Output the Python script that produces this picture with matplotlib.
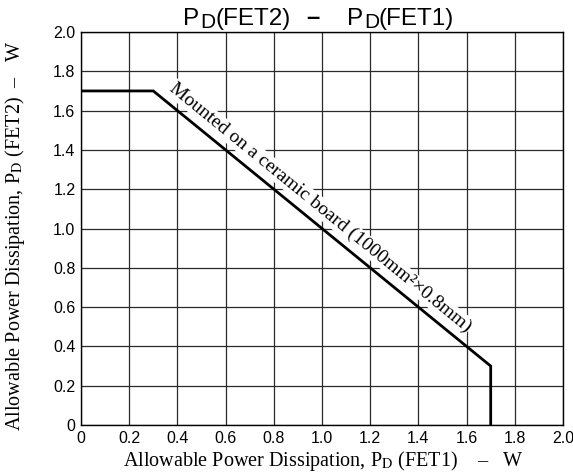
"""PD(FET2) - PD(FET1) derating chart"""
import numpy as np
import matplotlib
matplotlib.use('Agg')
import matplotlib.pyplot as plt

plt.rcParams['font.family'] = ['Liberation Sans', 'DejaVu Sans']

# allowable power curve, W
pd_fet1 = [0, 0.3, 1.7, 1.7]
pd_fet2 = [1.7, 1.7, 0.3, 0]

tick_values = [0, 0.2, 0.4, 0.6, 0.8, 1.0, 1.2, 1.4, 1.6, 1.8, 2.0]
tick_labels = ['0', '0.2', '0.4', '0.6', '0.8', '1.0', '1.2', '1.4', '1.6', '1.8', '2.0']

note = 'Mounted on a ceramic board (1000mm²×0.8mm)'

W, H = 573, 474
fig = plt.figure(figsize=(W / 100, H / 100), dpi=100)
ax = fig.add_axes([81 / W, 49 / H, 482 / W, 393 / H])

ax.plot(pd_fet1, pd_fet2, color='black', lw=2, solid_joinstyle='miter', zorder=3)

ax.set_xlim(0, 2.0)
ax.set_ylim(0, 2.0)
ax.set_xticks(tick_values)
ax.set_xticklabels(tick_labels)
ax.set_yticks(tick_values)
ax.set_yticklabels(tick_labels)
ax.tick_params(length=0, labelsize=11.5, pad=4, colors='black')
ax.grid(True, color='#2a2a2a', lw=0.9)
for s in ax.spines.values():
    s.set_color('black')
    s.set_linewidth(1.0)

serif = ['Liberation Serif', 'DejaVu Serif']
ax.set_xlabel('Allowable Power Dissipation, P$_\\mathrm{D}$ (FET1)    –   W',
              family=serif, math_fontfamily='stix', fontsize=14.5)
ax.xaxis.set_label_coords(0.502, -0.062)
ax.set_ylabel('Allowable Power Dissipation, P$_\\mathrm{D}$ (FET2)  –   W',
              family=serif, math_fontfamily='stix', fontsize=14.5)
ax.yaxis.set_label_coords(-0.112, 0.48)

# title built from runs so the subscript D stays large
# (text, gap before in px, fontsize, baseline px from top, bold)
title_runs = [('P', 0, 17.5, 25, False), ('D', 1, 15, 28, False),
              ('(FET2)', 0, 17.5, 25, False), ('–', 16, 17, 24, True),
              ('P', 27, 17.5, 25, False), ('D', 1, 15, 28, False),
              ('(FET1)', 0, 17.5, 25, False)]
renderer = fig.canvas.get_renderer()
x_px = 183
for txt, gap, fs, yb, bold in title_runs:
    x_px += gap
    t = fig.text(x_px / W, 1 - yb / H, txt, fontsize=fs, ha='left', va='baseline',
                 fontweight='bold' if bold else 'normal')
    x_px += t.get_window_extent(renderer).width

# text along the sloped segment
p1 = ax.transData.transform((pd_fet1[1], pd_fet2[1]))
p2 = ax.transData.transform((pd_fet1[2], pd_fet2[2]))
ang = np.degrees(np.arctan2(p2[1] - p1[1], p2[0] - p1[0]))
ax.text(0.992, 1.108, note, rotation=ang, rotation_mode='anchor', ha='center', va='center',
        family=serif, fontsize=14, zorder=4,
        bbox=dict(boxstyle='square,pad=0.05', fc='white', ec='none'))

fig.savefig('out.png', dpi=100)
